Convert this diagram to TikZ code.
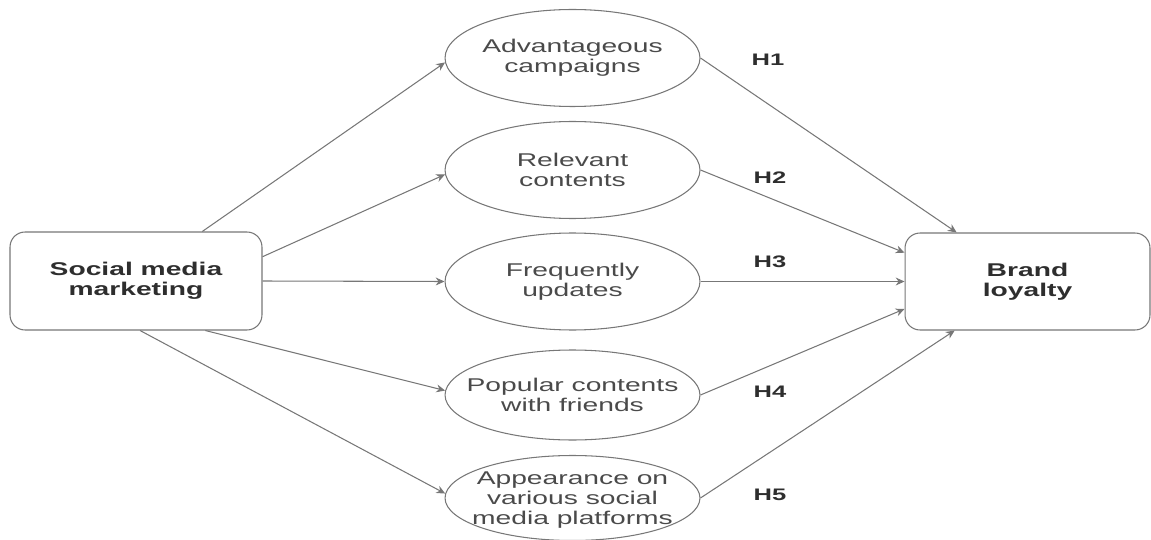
\documentclass[tikz,border=0pt]{standalone}
\usepackage{fontspec}
\newfontfamily\dfont[FakeStretch=1.53]{Liberation Sans}
\usetikzlibrary{shapes.geometric,arrows.meta,calc}
\definecolor{lc}{HTML}{777777}
\definecolor{tc}{HTML}{4A4A4A}
\definecolor{bc}{HTML}{2E2E2E}
\begin{document}
\begin{tikzpicture}[x=0.02cm,y=-0.02cm,
  ell/.style={draw=lc,line width=0.6pt,ellipse,inner sep=0pt,minimum width=5.1cm,minimum height=1.94cm},
  etext/.style={align=center,text=tc,inner sep=0pt,font=\dfont\fontsize{10.5}{11.3}\selectfont},
  rbox/.style={draw=lc,line width=0.6pt,rounded corners=0.3cm,align=center,text=bc,font=\dfont\bfseries\fontsize{10.5}{11.3}\selectfont},
  conn/.style={draw=lc,line width=0.6pt,-{Stealth[length=5pt,width=4.5pt]}},
  hlab/.style={text=bc,font=\dfont\bfseries\fontsize{9.5}{10}\selectfont,inner sep=0pt}]
\useasboundingbox (0,0) rectangle (1151,540);
\node[rbox,minimum width=5.04cm,minimum height=1.96cm] (smm) at (136,281) {Social media\\marketing};
\node[rbox,minimum width=4.9cm,minimum height=1.94cm] (bl) at (1027.5,281.5) {Brand\\loyalty};
\node[ell] (e1) at (572.5,58) {};
\node[ell] (e2) at (572.5,170) {};
\node[ell] (e3) at (572.5,281.5) {};
\node[ell,minimum height=1.8cm] (e4) at (572.5,395) {};
\node[ell,minimum height=1.7cm] (e5) at (572.5,498) {};
\node[etext] (e1t) at (e1) {Advantageous\\campaigns};
\node[etext] (e2t) at (e2) {Relevant\\contents};
\node[etext] (e3t) at (e3) {Frequently\\updates};
\node[etext] (e4t) at (e4) {Popular contents\\with friends};
\node[etext] (e5t) at ($(e5)+(0,2)$) {Appearance on\\various social\\media platforms};
\coordinate (s1) at ($(smm.north west)!0.762!(smm.north east)$);
\coordinate (s2) at ($(smm.north east)!0.255!(smm.south east)$);
\coordinate (s4) at ($(smm.south west)!0.774!(smm.south east)$);
\coordinate (s5) at ($(smm.south west)!0.516!(smm.south east)$);
\coordinate (t1) at ($(bl.north west)!0.212!(bl.north east)$);
\coordinate (t2) at ($(bl.north west)!0.206!(bl.south west)$);
\coordinate (t4) at ($(bl.north west)!0.78!(bl.south west)$);
\coordinate (t5) at ($(bl.south west)!0.204!(bl.south east)$);
\draw[conn] (s1) -- (e1.182);
\draw[conn] (s2) -- (e2.182);
\draw[conn] (smm.east) -- (e3.west);
\draw[conn] (s4) -- (e4.178);
\draw[conn] (s5) -- (e5.178);
\draw[conn] (e1.east) -- (t1);
\draw[conn] (e2.east) -- (t2);
\draw[conn] (e3.east) -- (bl.west);
\draw[conn] (e4.east) -- (t4);
\draw[conn] (e5.east) -- (t5);
\node[hlab] (h1) at (768,60) {H1};
\node[hlab] (h2) at (770,178) {H2};
\node[hlab] (h3) at (770,262) {H3};
\node[hlab] (h4) at (770,392) {H4};
\node[hlab] (h5) at (770,495) {H5};
\end{tikzpicture}
\end{document}
